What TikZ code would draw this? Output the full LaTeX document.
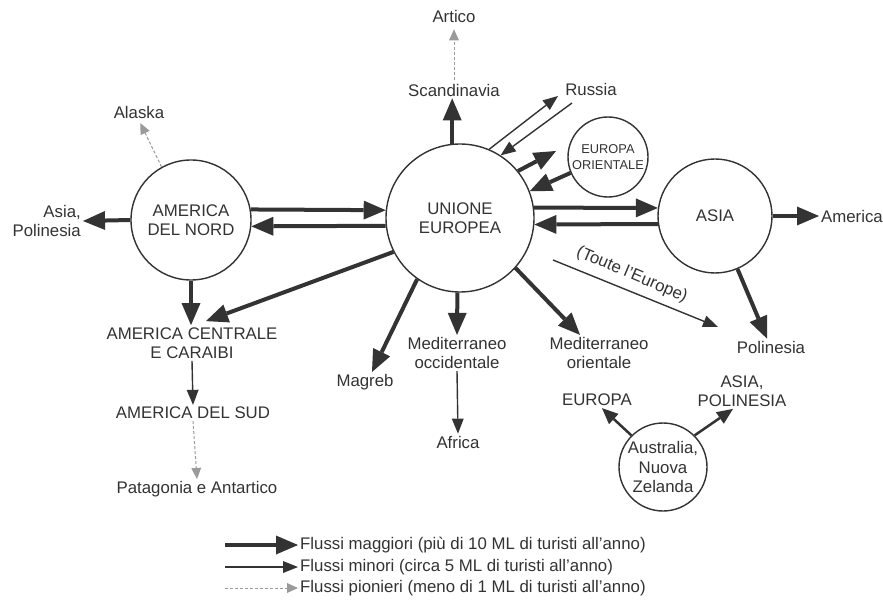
\documentclass[tikz,border=0pt]{standalone}
\usepackage{fontspec}
\setmainfont{Liberation Sans}
\usetikzlibrary{arrows.meta,calc}
\definecolor{ink}{HTML}{333333}
\definecolor{pale}{HTML}{9A9A9A}
\begin{document}
\begin{tikzpicture}[x=1pt,y=-1pt,
  font=\fontsize{16.8}{19.5}\selectfont, text=ink,
  major/.style={draw=ink, line width=4pt, -{Triangle[length=22pt,width=19pt,line width=0pt]}},
  medium/.style={draw=ink, line width=2.5pt, -{Triangle[length=16pt,width=14pt,line width=0pt]}},
  minor/.style={draw=ink, line width=1.4pt, -{Triangle[length=15pt,width=12pt,line width=0pt]}},
  pioneer/.style={draw=pale, line width=1pt, dash pattern=on 3pt off 2pt, -{Triangle[length=11pt,width=10pt,line width=0pt,fill=pale]}},
  region/.style={circle, draw=ink, line width=1.4pt, align=center, inner sep=0pt},
  lbl/.style={align=center, inner sep=2pt}]
\fill[white] (0,0) rectangle (883,601);
\useasboundingbox (0,0) rectangle (883,601);

% regions (circles)
\node[region, minimum size=120pt] (an) at (191,220) {AMERICA\\DEL NORD};
\node[region, minimum size=148pt] (eu) at (460,218) {UNIONE\\EUROPEA};
\node[region, minimum size=80pt, font=\fontsize{12.8}{16}\selectfont] (eo) at (608,157) {EUROPA\\ORIENTALE};
\node[region, minimum size=114pt] (asia) at (715,216) {ASIA};
\node[region, minimum size=88pt] (aus) at (663,467) {Australia,\\Nuova\\Zelanda};

% labels
\node[lbl] (artico) at (454,17) {Artico};
\node[lbl] (scan) at (454,90) {Scandinavia};
\node[lbl] (russia) at (591,89) {Russia};
\node[lbl] (alaska) at (139,112) {Alaska};
\node[lbl, align=right, anchor=east] (asp) at (83,221) {Asia,\\Polinesia};
\node[lbl] (ac) at (192,343) {AMERICA CENTRALE\\E CARAIBI};
\node[lbl] (as) at (193,413) {AMERICA DEL SUD};
\node[lbl] (pat) at (197,489) {Patagonia e Antartico};
\node[lbl] (magreb) at (365,382) {Magreb};
\node[lbl] (medoc) at (457,353) {Mediterraneo\\occidentale};
\node[lbl] (africa) at (458,442) {Africa};
\node[lbl] (medor) at (599,353) {Mediterraneo\\orientale};
\node[lbl] (polinesia) at (771,347) {Polinesia};
\node[lbl] (america) at (852,216) {America};
\node[lbl, rotate=-23, inner sep=0pt] (toute) at (632,275) {(Toute l'Europe)};
\node[lbl] (europa) at (597,400) {EUROPA};
\node[lbl] (asiap) at (742,391) {ASIA,\\POLINESIA};

% free ends
\coordinate (ru1) at (558,96);
\coordinate (ru2) at (572,103);
\coordinate (eo1) at (556,151);
\coordinate (te1) at (553,260);
\coordinate (te2) at (718,327);

% connectors
\draw[major] (an.10) -- (eu.174);
\draw[major] (eu.186) -- (an.-6);
\draw[major] (eu.8) -- (asia.172);
\draw[major] (asia.188) -- (eu.-5);
\draw[major] (asia.0) -- (america.west);
\draw[major] (asia.-67) -- ($(polinesia.north)+(-4,0)$);
\draw[major] (eu.96) -- (eu.96 |- scan.south);
\draw[pioneer, shorten <=2pt, shorten >=4pt] (scan.north) -- (artico.south);
\draw[minor] (eu.67) -- (ru1);
\draw[minor] (ru2) -- (eu.57);
\draw[major] (eu.39) -- (eo1);
\draw[major] (eo.203) -- (eu.21);
\draw[minor] (te1) -- (te2);
\draw[major] (eu.-42) -- ($(medor.north)+(-19,0)$);
\draw[major] (eu.-92) -- (medoc.north);
\draw[minor] (medoc.south) -- (africa.north);
\draw[major] (eu.-125) -- ($(magreb.north)+(7,0)$);
\draw[major] (eu.-153) -- ($(ac.north)+(14,-4)$);
\draw[major] (an.south) -- (an.south |- ac.north);
\draw[minor] (ac.south) -- (as.north);
\draw[pioneer] (as.south) -- (pat.north);
\draw[major] (an.180) -- (asp.east);
\draw[pioneer, shorten >=3pt] (an.119) -- (alaska.south);
\draw[medium] (aus.135) -- ($(europa.south)+(5,0)$);
\draw[medium] (aus.45) -- ($(asiap.south)+(-9,0)$);

% legend
\node[anchor=west, inner sep=0pt] (l1) at (300,545) {Flussi maggiori (più di 10 ML di turisti all'anno)};
\node[anchor=west, inner sep=0pt] (l2) at (300,567) {Flussi minori (circa 5 ML di turisti all'anno)};
\node[anchor=west, inner sep=0pt] (l3) at (300,588) {Flussi pionieri (meno di 1 ML di turisti all'anno)};
\coordinate (s1) at (225,545);
\coordinate (s2) at (225,567);
\coordinate (s3) at (225,588);
\draw[major, shorten >=2pt] (s1) -- (l1.west);
\draw[minor, shorten >=2pt] (s2) -- (l2.west);
\draw[pioneer, shorten >=2pt] (s3) -- (l3.west);
\end{tikzpicture}
\end{document}
